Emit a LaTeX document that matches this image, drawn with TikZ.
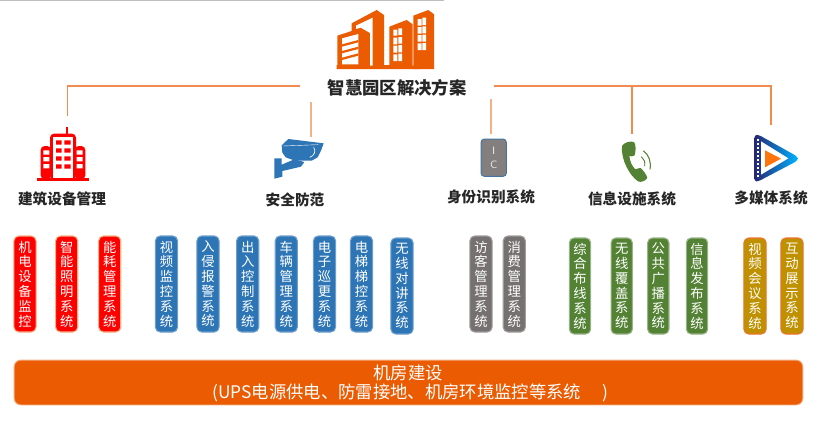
\documentclass[tikz,border=0pt]{standalone}
\usepackage{fontspec}
\setmainfont{Noto Sans CJK SC}
\usetikzlibrary{calc}
\definecolor{mainorange}{HTML}{EA5B02}
\definecolor{linkorange}{HTML}{F28C4E}
\definecolor{linklight}{HTML}{F4B183}
\definecolor{rubred}{HTML}{FE0000}
\definecolor{secblue}{HTML}{2E75B6}
\definecolor{idgray}{HTML}{767171}
\definecolor{infogreen}{HTML}{548235}
\definecolor{mediagold}{HTML}{BF9000}
\tikzset{
  vbox/.style={rounded corners=3.6pt,line width=.8pt,minimum width=16.6pt,minimum height=72pt,inner sep=0pt,
    text=white,align=center,font=\fontsize{10}{11.1}\selectfont},
  redbox/.style={vbox,fill=rubred,draw=linklight},
  bluebox/.style={vbox,fill=secblue,draw=secblue!70!white},
  graybox/.style={vbox,fill=idgray,draw=idgray!70!white},
  greenbox/.style={vbox,fill=infogreen,draw=infogreen!60!white,minimum width=16pt},
  goldbox/.style={vbox,fill=mediagold,draw=mainorange!85!white},
  catlabel/.style={font=\fontsize{11}{13}\selectfont\bfseries,text=black!85,inner sep=0pt},
  link/.style={draw=linkorange,line width=.8pt},
  linksoft/.style={draw=linklight,line width=1pt},
  ink/.style={shift={(#1)},x=.25pt,y=-.25pt}
}
\begin{document}
\begin{tikzpicture}[x=.75pt,y=-.75pt]
\useasboundingbox (0,0) rectangle (821,421);
\draw[black!25,line width=1.1pt] (0,.6) -- (444,.6);

% main building icon
\begin{scope}[ink={330,5}]
  \fill[mainorange] (65,55) -- (140,15) -- (162,30) -- (162,180) -- (178,180) -- (178,65) -- (230,45) -- (248,58) -- (248,182) -- (267,182) -- (267,192) -- (20,192) -- (20,180) -- (22,180) -- (22,92) -- (65,78) -- cycle;
  \fill[mainorange] (250,32) -- (295,15) -- (312,28) -- (312,192) -- (250,192) -- cycle;
  \fill[white] (78,62) -- (128,38) -- (128,182) -- (120,182) -- (120,84) -- (92,68) -- (78,72) -- cycle;
  \fill[white] (36,100) -- (85,87) -- (85,178) -- (36,178) -- cycle;
  \fill[mainorange] (36,118) -- (85,105) -- (85,112) -- (36,125) -- cycle
                    (36,138) -- (85,125) -- (85,132) -- (36,145) -- cycle
                    (36,158) -- (85,145) -- (85,152) -- (36,165) -- cycle;
  \fill[white] (190,74) rectangle (202,92) (205,70) rectangle (216,90)
               (190,98) rectangle (202,118) (205,96) rectangle (216,116)
               (190,122) rectangle (202,143) (205,120) rectangle (216,142)
               (190,148) rectangle (202,168) (205,146) rectangle (216,168);
  \fill[white] (263,42) rectangle (275,62) (277,38) rectangle (288,60)
               (263,66) rectangle (275,86) (277,64) rectangle (288,85)
               (263,90) rectangle (275,110) (277,89) rectangle (288,110)
               (263,115) rectangle (275,135) (277,114) rectangle (288,135);
\end{scope}

\node[font=\fontsize{13}{15}\selectfont\bfseries,text=black!85,inner sep=0pt] (title) at (397,88) {智慧园区解决方案};

% connectors
\coordinate (leftend) at (300,86);
\coordinate (leftcorner) at (67.5,86);
\coordinate (leftdrop) at (67.5,116);
\coordinate (rightstart) at (494,86);
\coordinate (infotop) at (632,86);
\coordinate (infodrop) at (632,134);
\coordinate (rightcorner) at (771,86);
\coordinate (rightdrop) at (771,125);
\coordinate (sectop) at (311,102);
\coordinate (secdrop) at (311,137);
\coordinate (idtop) at (491,99);
\coordinate (iddrop) at (491,134);
\draw[link] (leftend) -- (leftcorner) -- (leftdrop);
\draw[link] (rightstart) -- (rightcorner) -- (rightdrop);
\draw[link] (infotop) -- (infodrop);
\draw[linksoft] (sectop) -- (secdrop);
\draw[linksoft] (idtop) -- (iddrop);

% red building icon
\begin{scope}[ink={30,122}]
  \fill[rubred] (108,15) rectangle (114,36);
  \fill[rubred,rounded corners=3pt] (60,35) rectangle (138,172);
  \fill[rubred,rounded corners=3pt] (32,72) rectangle (64,172);
  \fill[rubred,rounded corners=3pt] (134,72) rectangle (166,172);
  \fill[rubred] (22,167) rectangle (178,177);
  \fill[white] (70,44) rectangle (130,167);
  \fill[rubred] (78,55) rectangle (95,68) (103,55) rectangle (122,68)
                (78,79) rectangle (95,92) (103,79) rectangle (122,92)
                (78,103) rectangle (95,116) (103,103) rectangle (122,116)
                (78,127) rectangle (95,140) (103,127) rectangle (122,140);
  \fill[white] (40,85) rectangle (58,98) (40,105) rectangle (58,118) (40,126) rectangle (58,139)
               (140,85) rectangle (158,98) (140,105) rectangle (158,118) (140,126) rectangle (158,139);
\end{scope}

% camera icon
\begin{scope}[ink={265,130}]
  \fill[secblue] (28,85) -- (50,85) -- (50,104) -- (88,88) -- (118,96) -- (108,110) -- (52,123) -- (52,140) -- (28,146) -- cycle;
  \fill[secblue] (50,46) -- (70,27) -- (176,40) -- (168,62) -- (158,82) -- (140,92) -- (90,92) -- (62,82) -- (52,68) -- cycle;
  \draw[white,line width=.3pt] (54,48) -- (160,44);
  \draw[white,line width=.5pt] (146,52) .. controls (154,62) and (148,78) .. (134,82);
\end{scope}

% ID card icon
\node[draw=secblue!70!idgray,fill=idgray!90!white,rounded corners=2.5pt,line width=.7pt,minimum width=19pt,minimum height=28pt,inner sep=0pt,text=white!90!black,align=center,font=\fontsize{8}{10.5}\selectfont\sffamily] (icicon) at (493.7,157.7) {I\\C};

% phone icon
\begin{scope}[ink={610,130}]
  \fill[infogreen] (36,48) .. controls (42,38) and (58,32) .. (72,36) .. controls (78,44) and (78,62) .. (74,76) .. controls (68,80) and (62,80) .. (58,78) .. controls (60,95) and (66,108) .. (76,118) .. controls (82,116) and (88,114) .. (92,114) .. controls (100,122) and (110,134) .. (112,144) .. controls (106,154) and (92,158) .. (84,154) .. controls (60,138) and (32,90) .. (36,48) -- cycle;
  \draw[infogreen,line width=.7pt] (94,80) .. controls (102,86) and (106,96) .. (104,108);
  \draw[infogreen,line width=.8pt] (100,62) .. controls (116,74) and (124,94) .. (120,118);
\end{scope}

% media icon
\begin{scope}[ink={745,128}]
  \shade[left color=blue!35!black!85,right color=cyan!70!blue,rounded corners=2pt] (28,22) -- (40,20) -- (158,86) -- (158,98) -- (40,160) -- (28,160) -- cycle;
  \fill[white] (48,40) -- (130,91) -- (48,140) -- cycle;
  \fill[orange!85!red!95!white] (60,67) -- (108,92) -- (60,118) -- cycle;
  \foreach \h in {32,44,56,68,80,92,104,116,128,140}
    \fill[white] (35,\h) rectangle (42,\h+6);
\end{scope}

% category labels
\node[catlabel] (cat1) at (62,199) {建筑设备管理};
\node[catlabel] (cat2) at (295,200) {安全防范};
\node[catlabel] (cat3) at (491,197) {身份识别系统};
\node[catlabel] (cat4) at (632,199) {信息设施系统};
\node[catlabel] (cat5) at (771,198) {多媒体系统};

% red
\node[redbox] (r1) at (25,284) {机\\电\\设\\备\\监\\控};
\node[redbox] (r2) at (66.7,284) {智\\能\\照\\明\\系\\统};
\node[redbox] (r3) at (109.7,284) {能\\耗\\管\\理\\系\\统};
% blue
\node[bluebox] (b1) at (166.5,284) {视\\频\\监\\控\\系\\统};
\node[bluebox] (b2) at (208,284) {入\\侵\\报\\警\\系\\统};
\node[bluebox] (b3) at (247.7,284) {出\\入\\控\\制\\系\\统};
\node[bluebox] (b4) at (286.3,284) {车\\辆\\管\\理\\系\\统};
\node[bluebox] (b5) at (324.5,284) {电\\子\\巡\\更\\系\\统};
\node[bluebox] (b6) at (361.5,284) {电\\梯\\梯\\控\\系\\统};
\node[bluebox] (b7) at (402,286) {无\\线\\对\\讲\\系\\统};
% gray
\node[graybox] (g1) at (481,284) {访\\客\\管\\理\\系\\统};
\node[graybox] (g2) at (514.3,284) {消\\费\\管\\理\\系\\统};
% green
\node[greenbox] (n1) at (580,286) {综\\合\\布\\线\\系\\统};
\node[greenbox] (n2) at (621.7,286) {无\\线\\覆\\盖\\系\\统};
\node[greenbox] (n3) at (658.3,286) {公\\共\\广\\播\\系\\统};
\node[greenbox] (n4) at (697,286) {信\\息\\发\\布\\系\\统};
% gold
\node[goldbox] (m1) at (755,286) {视\\频\\会\\议\\系\\统};
\node[goldbox] (m2) at (792,286) {互\\动\\展\\示\\系\\统};

% base bar
\node[fill=mainorange,draw=linklight,line width=.7pt,rounded corners=5pt,minimum width=591.5pt,minimum height=33.7pt,inner sep=0pt] (bar) at (408.5,382.5) {};
\node[text=white,font=\fontsize{13}{15}\selectfont,inner sep=0pt] (bar1) at (408,373) {机房建设};
\node[text=white,font=\fontsize{13}{15}\selectfont,inner sep=0pt,anchor=west] (bar2) at (212,393) {(UPS电源供电、防雷接地、机房环境监控等系统\hspace{1.25em})};
\end{tikzpicture}
\end{document}
